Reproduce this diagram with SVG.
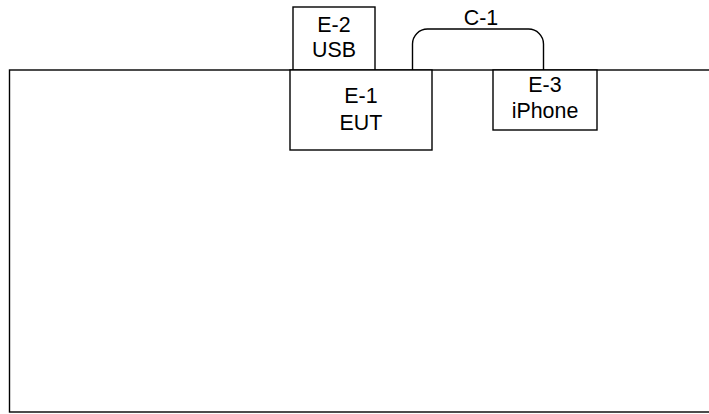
<svg xmlns="http://www.w3.org/2000/svg" width="709" height="414" viewBox="0 0 709 414">
<style>
.b{fill:#fff;stroke:#000;stroke-width:1.4}
.t{font-family:"Liberation Sans",Arial,sans-serif;font-size:21.4px;fill:#000;text-anchor:middle}
.c{fill:none;stroke:#000;stroke-width:1.4}
</style>
<rect width="709" height="414" fill="#fff"/>
<g id="room"><rect class="b" x="9.5" y="70" width="710" height="342"/></g>
<g id="connectors"><path class="c" d="M412.5 70 V44 A15 15 0 0 1 427.5 29 H528.5 A15 15 0 0 1 543.5 44 V70"/>
<text class="t" x="481" y="25">C-1</text></g>
<g id="E-2"><rect class="b" x="293" y="7" width="82" height="63"/><text class="t" x="334" y="31.5">E-2</text><text class="t" x="334" y="57">USB</text></g>
<g id="E-1"><rect class="b" x="290" y="70" width="142" height="80"/><text class="t" x="361" y="103">E-1</text><text class="t" x="361" y="130">EUT</text></g>
<g id="E-3"><rect class="b" x="493" y="70" width="104" height="60"/><text class="t" x="545" y="92">E-3</text><text class="t" x="545" y="118">iPhone</text></g>
</svg>
